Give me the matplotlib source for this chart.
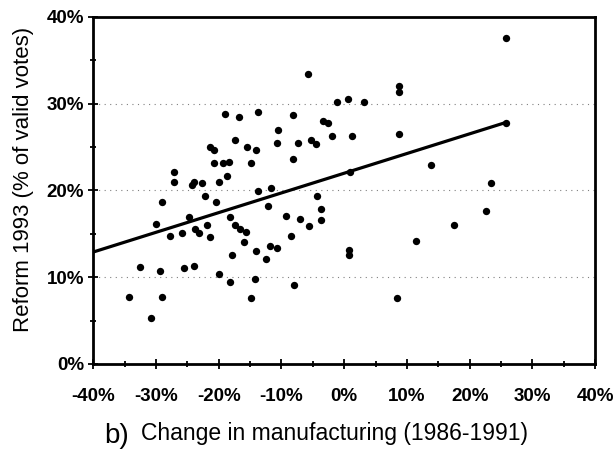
import numpy as np
import matplotlib.pyplot as plt
from matplotlib.ticker import MultipleLocator, FuncFormatter

plt.rcParams['font.family'] = ['Liberation Sans', 'DejaVu Sans']

# change in manufacturing 1986-1991 (%) and reform vote 1993 (%)
manuf = [-5.8, -1.1, 0.6, 3.1, -16.7, -13.8, -8.1, -3.3, -2.6, -10.6,
         -17.4, -15.5, -14.0, -10.7, -7.3, -5.3, -4.5, -2.0, 1.3, -14.8,
         -8.1, -13.7, -11.6, -4.4, -12.1, -3.7, -9.2, -7.0, -3.7, -19.0,
         -21.4, -20.8, -20.7, -19.3, -18.4, -27.2, -27.2, -24.0, -22.6, -20.0,
         -18.7, -24.3, -22.2, -20.4, -29.0, -18.2, -30.0, -24.8, -27.7, -25.9,
         -23.7, -23.1, -21.8, -21.4, -17.4, -16.6, -15.7, -17.9, -18.2, -32.6,
         -29.3, -25.6, -23.9, -20.0, -34.3, -29.1, -30.8, -5.6, -8.4, -16.0,
         -11.8, -10.7, -14.0, -12.5, 0.8, 0.8, -14.2, -8.0, -14.8, 22.6,
         17.5, 11.4, 8.4, 25.8, 8.7, 8.8, 8.7, 13.8, 23.4, 25.8,
         1.0]
reform = [33.4, 30.2, 30.5, 30.2, 28.5, 29.0, 28.7, 28.0, 27.7, 26.9,
          25.8, 25.0, 24.7, 25.4, 25.5, 25.8, 25.3, 26.2, 26.2, 23.1,
          23.6, 19.9, 20.3, 19.3, 18.2, 17.9, 17.0, 16.7, 16.6, 28.8,
          25.0, 24.6, 23.1, 23.1, 23.3, 22.1, 21.0, 21.0, 20.8, 21.0,
          21.7, 20.6, 19.4, 18.7, 18.6, 16.9, 16.1, 16.9, 14.7, 15.1,
          15.6, 15.1, 16.0, 14.6, 16.0, 15.5, 15.2, 12.6, 9.4, 11.2,
          10.7, 11.0, 11.3, 10.4, 7.7, 7.7, 5.3, 15.9, 14.7, 14.0,
          13.6, 13.4, 13.0, 12.1, 13.1, 12.5, 9.8, 9.1, 7.6, 17.6,
          16.0, 14.2, 7.6, 37.6, 32.0, 31.3, 26.5, 22.9, 20.8, 27.8,
          22.1]

# linear trend
slope = 0.227
intercept = 21.97
trend_x = [-40, 25.8]

fig = plt.figure(figsize=(6.13, 4.51), dpi=100)
ax = fig.add_axes([0.152, 0.193, 0.819, 0.77])

ax.scatter(manuf, reform, s=28, color='black', zorder=3, linewidths=0)
tx = np.array(trend_x)
ax.plot(tx, intercept + slope * tx, color='black', lw=2.3, zorder=4)

ax.set_xlim(-40, 40)
ax.set_ylim(0, 40)
ax.xaxis.set_major_locator(MultipleLocator(10))
ax.xaxis.set_minor_locator(MultipleLocator(5))
ax.yaxis.set_major_locator(MultipleLocator(10))
ax.yaxis.set_minor_locator(MultipleLocator(5))
pct = FuncFormatter(lambda v, p: '%d%%' % v)
ax.xaxis.set_major_formatter(pct)
ax.yaxis.set_major_formatter(pct)
ax.tick_params(which='both', direction='inout', color='black', width=1.3)
ax.tick_params(which='major', length=7, labelsize=13.5, pad=3)
ax.tick_params(which='minor', length=4)
ax.tick_params(axis='x', which='major', pad=14)
for lab in ax.get_xticklabels() + ax.get_yticklabels():
    lab.set_fontweight('bold')

ax.yaxis.grid(True, which='major', linestyle=(0, (1, 4)), color='gray', lw=0.8)
ax.set_axisbelow(True)
for s in ax.spines.values():
    s.set_linewidth(2)
    s.set_color('black')

ax.set_ylabel('Reform 1993 (% of valid votes)', fontsize=16, labelpad=9)
ax.yaxis.label.set_y(0.53)
ax.set_xlabel('Change in manufacturing (1986-1991)', fontsize=16.5, labelpad=12)
ax.xaxis.label.set_x(0.48)
fig.text(0.17, 0.005, 'b)', fontsize=20, ha='left', va='bottom')

fig.savefig('out.png', dpi=100)
